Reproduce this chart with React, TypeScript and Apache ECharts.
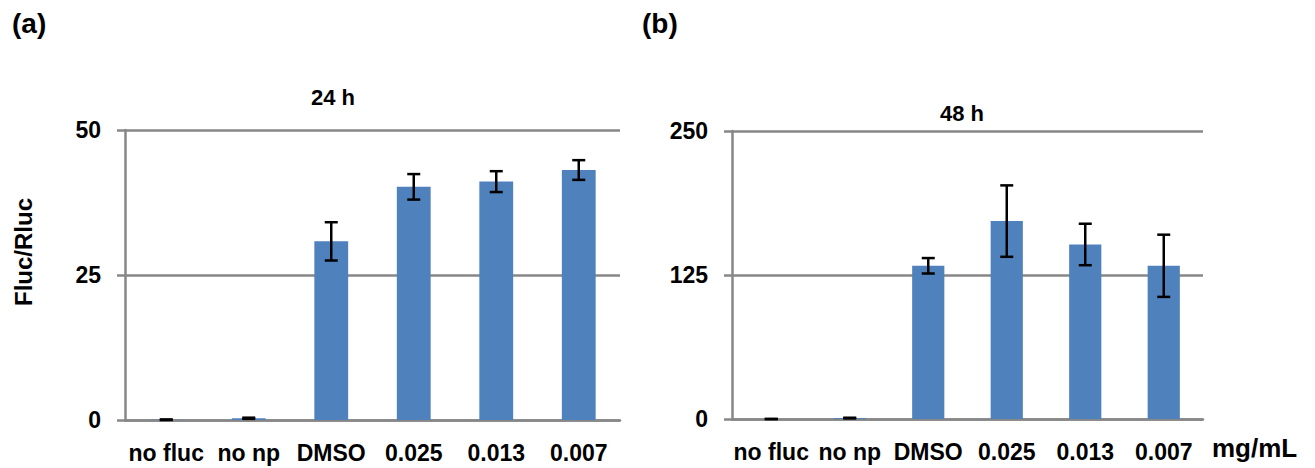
import React, { useEffect, useRef } from "react";
import * as echarts from "echarts";

const categories = ["no fluc", "no np", "DMSO", "0.025", "0.013", "0.007"];
const values24h = [0.05, 0.3, 30.8, 40.2, 41.1, 43.1];
const errors24h = [0.05, 0.1, 3.3, 2.2, 1.8, 1.7];
const values48h = [0, 0.8, 133, 171.8, 151.5, 133];
const errors48h = [0, 0.3, 6.7, 31, 18, 27];
const ticks24h = { min: 0, max: 50, interval: 25 };
const ticks48h = { min: 0, max: 250, interval: 125 };

const FONT = "'Liberation Sans', Arial, sans-serif";
const GRID_COLOR = "#878787";
const BAR_COLOR = "#4F81BD";

function errorData(vals: number[], errs: number[]) {
  return vals.map((v, i) => [i, v - errs[i], v + errs[i]]);
}

function renderError(params: any, api: any) {
  const x = api.value(0);
  const lo = api.coord([x, api.value(1)]);
  const hi = api.coord([x, api.value(2)]);
  const cap = 6.5;
  const style = { stroke: "#000", lineWidth: 2.5 };
  return {
    type: "group",
    children: [
      { type: "line", shape: { x1: lo[0], y1: lo[1], x2: hi[0], y2: hi[1] }, style },
      { type: "line", shape: { x1: hi[0] - cap, y1: hi[1], x2: hi[0] + cap, y2: hi[1] }, style },
      { type: "line", shape: { x1: lo[0] - cap, y1: lo[1], x2: lo[0] + cap, y2: lo[1] }, style },
    ],
  };
}

function yAxis(gridIndex: number, t: { min: number; max: number; interval: number }) {
  return {
    type: "value",
    gridIndex,
    min: t.min,
    max: t.max,
    interval: t.interval,
    axisLine: { show: true, lineStyle: { color: GRID_COLOR, width: 2.5 } },
    axisTick: { show: true, length: 8, lineStyle: { color: GRID_COLOR, width: 2.5 } },
    splitLine: { show: true, lineStyle: { color: GRID_COLOR, width: 2.5 } },
    axisLabel: { color: "#000", fontFamily: FONT, fontWeight: "bold", fontSize: 23, margin: 24 },
  };
}

function xAxis(gridIndex: number) {
  return {
    type: "category",
    gridIndex,
    data: categories,
    axisLine: { show: true, lineStyle: { color: GRID_COLOR, width: 2.5 } },
    axisTick: { show: false },
    axisLabel: {
      color: "#000",
      fontFamily: FONT,
      fontWeight: "bold",
      fontSize: 23,
      margin: 20,
      lineHeight: 25,
      interval: 0,
    },
  };
}

export default function App() {
  const ref = useRef<HTMLDivElement>(null);
  useEffect(() => {
    if (!ref.current) return;
    const chart = echarts.init(ref.current, undefined, { renderer: "svg" });
    const textStyle = (size: number) => ({ fill: "#000", font: `bold ${size}px ${FONT}` });
    chart.setOption({
      animation: false,
      grid: [
        { left: 125, right: 695, top: 130, bottom: 48 },
        { left: 732, right: 112, top: 131, bottom: 49 },
      ],
      xAxis: [xAxis(0), xAxis(1)],
      yAxis: [yAxis(0, ticks24h), yAxis(1, ticks48h)],
      series: [
        {
          type: "bar",
          xAxisIndex: 0,
          yAxisIndex: 0,
          data: values24h,
          barWidth: "41%",
          itemStyle: { color: BAR_COLOR },
        },
        {
          type: "custom",
          xAxisIndex: 0,
          yAxisIndex: 0,
          data: errorData(values24h, errors24h),
          renderItem: renderError,
          z: 5,
        },
        {
          type: "bar",
          xAxisIndex: 1,
          yAxisIndex: 1,
          data: values48h,
          barWidth: "41%",
          itemStyle: { color: BAR_COLOR },
        },
        {
          type: "custom",
          xAxisIndex: 1,
          yAxisIndex: 1,
          data: errorData(values48h, errors48h),
          renderItem: renderError,
          z: 5,
        },
      ],
      graphic: [
        { type: "text", left: 12, top: 9, style: { text: "(a)", ...textStyle(28) } },
        { type: "text", left: 642, top: 9, style: { text: "(b)", ...textStyle(28) } },
        {
          type: "text",
          x: 333,
          y: 97,
          style: { text: "24 h", align: "center", verticalAlign: "middle", ...textStyle(22) },
        },
        {
          type: "text",
          x: 962,
          y: 113,
          style: { text: "48 h", align: "center", verticalAlign: "middle", ...textStyle(22) },
        },
        {
          type: "text",
          x: 23,
          y: 252,
          rotation: Math.PI / 2,
          style: { text: "Fluc/Rluc", align: "center", verticalAlign: "middle", ...textStyle(24) },
        },
        {
          type: "text",
          x: 1212,
          y: 448,
          style: { text: "mg/mL", align: "left", verticalAlign: "middle", ...textStyle(26) },
        },
      ],
    });
    return () => chart.dispose();
  }, []);
  return (
    <div
      ref={ref}
      style={{ position: "absolute", left: 0, top: 0, width: 1315, height: 468 }}
    />
  );
}
